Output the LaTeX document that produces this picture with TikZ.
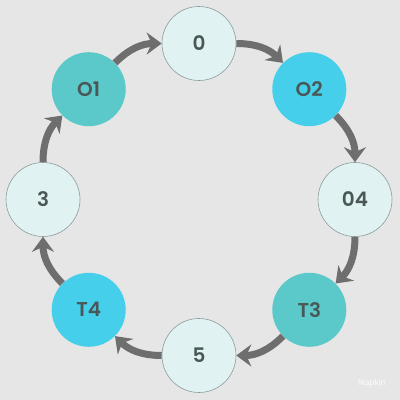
\documentclass[tikz,border=0pt]{standalone}
\usepackage{fontspec}
\setmainfont{Poppins}[BoldFont={Poppins SemiBold}]
\usetikzlibrary{arrows.meta}
\definecolor{bg}{HTML}{E6E6E6}
\definecolor{pale}{HTML}{E0F2F1}
\definecolor{palebd}{HTML}{8C9C9C}
\definecolor{teal}{HTML}{5BC9C9}
\definecolor{cyan}{HTML}{45CFEB}
\definecolor{txt}{HTML}{4A5757}
\definecolor{arr}{HTML}{6E6E6E}
\tikzset{
  stnode/.style={circle, minimum size=74pt, inner sep=0pt, text=txt, font=\fontsize{20}{24}\selectfont\bfseries},
  palenode/.style={stnode, fill=pale, draw=palebd, line width=0.6pt},
  tealnode/.style={stnode, fill=teal},
  cyannode/.style={stnode, fill=cyan},
  flow/.style={draw=arr, line width=7pt, -{Stealth[length=15pt,width=22pt,inset=5pt]}, bend left=22.5},
}
\begin{document}
\begin{tikzpicture}[x=1pt,y=1pt]
\fill[bg] (0,0) rectangle (400,400);
\useasboundingbox (0,0) rectangle (400,400);
\node[palenode] (n0) at (199,356.5) {0};
\node[cyannode] (o2) at (309.3,310.8) {O2};
\node[palenode] (n4) at (355,200.5) {04};
\node[tealnode] (t3) at (309.3,90.2) {T3};
\node[palenode] (n5) at (199,44.5) {5};
\node[cyannode] (t4) at (88.7,90.2) {T4};
\node[palenode] (n3) at (43,200.5) {3};
\node[tealnode] (o1) at (88.7,310.8) {O1};
\draw[flow] (o1) to (n0);
\draw[flow] (n0) to (o2);
\draw[flow] (o2) to (n4);
\draw[flow] (n4) to (t3);
\draw[flow] (t3) to (n5);
\draw[flow] (n5) to (t4);
\draw[flow] (t4) to (n3);
\draw[flow] (n3) to (o1);
\node[text=white!88!bg, font=\fontsize{8}{10}\selectfont] (wm) at (372,17) {Napkin};
\end{tikzpicture}
\end{document}
